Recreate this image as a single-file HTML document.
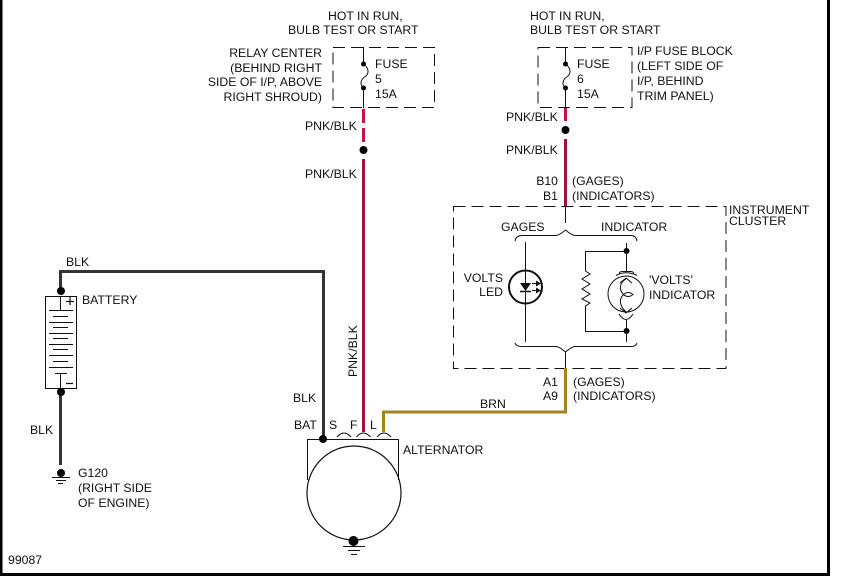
<!DOCTYPE html>
<html>
<head>
<meta charset="utf-8">
<style>
html,body{margin:0;padding:0;background:#fff;width:841px;height:583px;overflow:hidden}
svg{display:block}
text{font-family:"Liberation Sans",sans-serif;font-size:12.25px;fill:#111}
</style>
</head>
<body>
<svg width="841" height="583" viewBox="0 0 841 583" xmlns="http://www.w3.org/2000/svg">
<rect width="841" height="583" fill="#fff"/>
<path d="M1 0V574.5H828.5V0" fill="none" stroke="#000" stroke-width="3"/>

<!-- fuse boxes and cluster -->
<g fill="none" stroke="#111" stroke-width="1" stroke-dasharray="12 6">
<rect x="333" y="47.500" width="101.500" height="60"/>
<rect x="538" y="47.500" width="94" height="60"/>
<rect x="453.500" y="206.500" width="272.500" height="162"/>
</g>

<!-- thin wires -->
<g fill="none" stroke="#111" stroke-width="1">
<path d="M363.500 47V64M363.500 64C369 68 369 73 366 76C361 79 359 84 363.500 88M363.500 88V108"/>
<path d="M565.500 47V64M565.500 64C571 68 571 73 568 76C563 79 561 84 565.500 88M565.500 88V108"/>
<path d="M565.500 206V223"/>
<path d="M515 241Q516 235.500 522 235.500H556Q559 235.500 565.500 230Q572 235.500 575 235.500H631Q636 235.500 637 241"/>
<path d="M515 343Q516 346.500 522 346.500H556Q559 346.500 565.500 352Q572 346.500 575 346.500H631Q636 346.500 637 343"/>
<path d="M565.500 352V369"/>
<path d="M525.500 242V342"/>
<path d="M626.500 243V272M626.500 320V342"/>
<path d="M626.500 251.500H585.500V271L590 274L582 279L590 284L582 289L590 294L582 299L590 303L585.500 306V331.500H626.500"/>
<circle cx="525.500" cy="287" r="16.500" stroke-width="2"/>
<circle cx="626" cy="294" r="18"/>
<path d="M619 273.500Q620 271.500 622 271.500H631Q633 271.500 634 273.500M616 275.500Q626 270 637 275.500"/>
<path d="M619 314Q626 325 633 314"/>
<path d="M626 278L620 283M626 278L632 283M626 313L620 308M626 313L632 308"/>
<path d="M626 279C619 283 619 290 623.500 294.500C619 299 619 305 626 312"/>
<path d="M623.500 294.500Q628 290.500 633 294.500Q628 298.500 623.500 294.500"/>
<path d="M520 291.500H531" stroke-width="1.500"/>
<path d="M532 283.500H538M532 290.500H538"/>
<!-- alternator -->
<path d="M307.500 480V439.500H398.500V480" stroke-width="1"/>
<circle cx="354" cy="493" r="47" stroke-width="1.200"/>
<path d="M337 437Q344 429 351 437M356.500 437Q363 429 370.500 437M377 437Q384 429 391 437"/>
<!-- battery -->
<rect x="45.500" y="296.500" width="31" height="92"/>
<path d="M60.500 296V310M49 310.500H73M53 316.500H68M49 322.500H73M53 327.500H68M49 333.500H73M53 338.500H68M49 344.500H73M53 349.500H68M49 355.500H73M53 361.500H68M49 367.500H73M55 373.500H67M60.500 373V388"/>
<path d="M66 301.500H74M70 297V305M66 383.500H73" stroke-width="1.200"/>
<!-- grounds -->
<path d="M52 477.500H70M56 480.500H66M58 483.500H63"/>
<path d="M343 546.500H365M348 550.500H360M351 554.500H357"/>
</g>

<path d="M520 283H531L525.500 291Z" fill="#111"/>
<path d="M541 283.500L536 280.500V286.500ZM541 290.500L536 287.500V293.500Z" fill="#111"/>

<!-- coloured wires -->
<g fill="none" stroke-width="3">
<path d="M363.500 109V123M363.500 128V142" stroke="#c4134a"/>
<path d="M363.500 159V432" stroke="#a3123f"/>
<path d="M565.500 108V121" stroke="#c4134a"/>
<path d="M565.500 139V206" stroke="#a3123f"/>
<path d="M565.500 368V412H383.500V432" stroke="#a8801c"/>
<path d="M60.500 291V271.500H323.500V439" stroke="#333"/>
<path d="M60.500 392V465" stroke="#333"/>
</g>

<!-- dots -->
<g fill="#000">
<circle cx="363.500" cy="64" r="2.500"/><circle cx="363.500" cy="88" r="2.500"/>
<circle cx="565.500" cy="64" r="2.500"/><circle cx="565.500" cy="88" r="2.500"/>
<circle cx="363.500" cy="150" r="4"/><circle cx="565.500" cy="130" r="4"/>
<circle cx="626.500" cy="251" r="3"/><circle cx="626.500" cy="331" r="3"/>
<circle cx="323" cy="439" r="4"/>
<circle cx="353.500" cy="541" r="5"/>
<circle cx="61" cy="291" r="4"/><circle cx="61" cy="392" r="4"/>
<circle cx="61" cy="473" r="4"/>
</g>

<!-- labels -->
<text x="328" y="20">HOT IN RUN,</text>
<text x="288" y="34">BULB TEST OR START</text>
<text x="530" y="20">HOT IN RUN,</text>
<text x="530" y="34">BULB TEST OR START</text>
<text x="375" y="68">FUSE</text>
<text x="375" y="83">5</text>
<text x="375" y="98">15A</text>
<text x="577" y="68">FUSE</text>
<text x="577" y="83">6</text>
<text x="577" y="98">15A</text>
<text x="322" y="57" text-anchor="end">RELAY CENTER</text>
<text x="322" y="72" text-anchor="end">(BEHIND RIGHT</text>
<text x="322" y="86" text-anchor="end">SIDE OF I/P, ABOVE</text>
<text x="322" y="101" text-anchor="end">RIGHT SHROUD)</text>
<text x="637" y="55">I/P FUSE BLOCK</text>
<text x="637" y="70">(LEFT SIDE OF</text>
<text x="637" y="85">I/P, BEHIND</text>
<text x="637" y="100">TRIM PANEL)</text>
<text x="305" y="130">PNK/BLK</text>
<text x="305" y="178">PNK/BLK</text>
<text x="506" y="121">PNK/BLK</text>
<text x="506" y="154">PNK/BLK</text>
<text x="558" y="185" text-anchor="end">B10</text>
<text x="558" y="200" text-anchor="end">B1</text>
<text x="572" y="185">(GAGES)</text>
<text x="572" y="200">(INDICATORS)</text>
<text x="729" y="214">INSTRUMENT</text>
<text x="729" y="225">CLUSTER</text>
<text x="501" y="231">GAGES</text>
<text x="601" y="231">INDICATOR</text>
<text x="503" y="282" text-anchor="end">VOLTS</text>
<text x="503" y="296" text-anchor="end">LED</text>
<text x="649" y="284">'VOLTS'</text>
<text x="649" y="299">INDICATOR</text>
<text x="558" y="386" text-anchor="end">A1</text>
<text x="558" y="400" text-anchor="end">A9</text>
<text x="573" y="386">(GAGES)</text>
<text x="573" y="400">(INDICATORS)</text>
<text x="480" y="408">BRN</text>
<text x="66" y="266">BLK</text>
<text x="82" y="304">BATTERY</text>
<text x="30" y="434">BLK</text>
<text x="78" y="477">G120</text>
<text x="78" y="492">(RIGHT SIDE</text>
<text x="78" y="507">OF ENGINE)</text>
<text x="8" y="564">99087</text>
<text x="293" y="402">BLK</text>
<text x="294" y="429">BAT</text>
<text x="329" y="429">S</text>
<text x="350" y="429">F</text>
<text x="370" y="429">L</text>
<text x="403" y="454">ALTERNATOR</text>
<text transform="translate(357,377) rotate(-90)">PNK/BLK</text>
</svg>
</body>
</html>
